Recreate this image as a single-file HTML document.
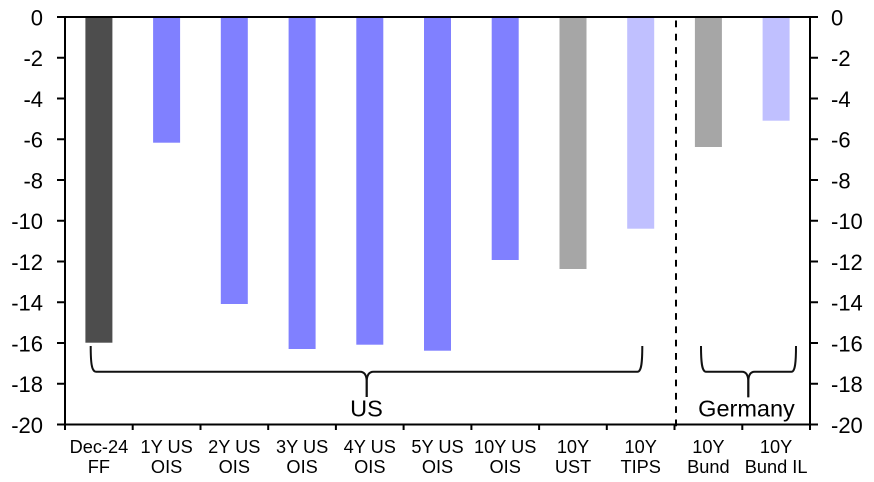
<!DOCTYPE html>
<html><head><meta charset="utf-8"><style>
html,body{margin:0;padding:0;background:#fff;}
svg{display:block;}
text{font-family:"Liberation Sans",Arial,sans-serif;fill:#000;}
</style></head><body>
<svg width="874" height="482" viewBox="0 0 874 482" xmlns="http://www.w3.org/2000/svg">
<!-- bars -->
<rect x="85.4" y="17" width="27" height="325.7" fill="#4d4d4d"/>
<rect x="153.1" y="17" width="27" height="125.7" fill="#8080ff"/>
<rect x="220.8" y="17" width="27" height="287" fill="#8080ff"/>
<rect x="288.6" y="17" width="27" height="332" fill="#8080ff"/>
<rect x="356.3" y="17" width="27" height="327.7" fill="#8080ff"/>
<rect x="424.0" y="17" width="27" height="333.7" fill="#8080ff"/>
<rect x="491.7" y="17" width="27" height="243" fill="#8080ff"/>
<rect x="559.5" y="17" width="27" height="252" fill="#a6a6a6"/>
<rect x="627.2" y="17" width="27" height="211.7" fill="#c0c0ff"/>
<rect x="694.9" y="17" width="27" height="130" fill="#a6a6a6"/>
<rect x="762.6" y="17" width="27" height="103.7" fill="#c0c0ff"/>

<!-- dashed separator -->
<line x1="676" y1="20.5" x2="676" y2="430" stroke="#000" stroke-width="2" stroke-dasharray="6.7,6.6"/>

<!-- axes -->
<g stroke="#000" stroke-width="2" fill="none">
<line x1="57" y1="17" x2="818" y2="17"/>
<line x1="57" y1="424.5" x2="818" y2="424.5"/>
<line x1="65" y1="16" x2="65" y2="425.5"/>
<line x1="810" y1="16" x2="810" y2="425.5"/>
<!-- left ticks -->
<line x1="57" y1="57.75" x2="65" y2="57.75"/>
<line x1="57" y1="98.5" x2="65" y2="98.5"/>
<line x1="57" y1="139.25" x2="65" y2="139.25"/>
<line x1="57" y1="180" x2="65" y2="180"/>
<line x1="57" y1="220.75" x2="65" y2="220.75"/>
<line x1="57" y1="261.5" x2="65" y2="261.5"/>
<line x1="57" y1="302.25" x2="65" y2="302.25"/>
<line x1="57" y1="343" x2="65" y2="343"/>
<line x1="57" y1="383.75" x2="65" y2="383.75"/>
<!-- right ticks -->
<line x1="810" y1="57.75" x2="818" y2="57.75"/>
<line x1="810" y1="98.5" x2="818" y2="98.5"/>
<line x1="810" y1="139.25" x2="818" y2="139.25"/>
<line x1="810" y1="180" x2="818" y2="180"/>
<line x1="810" y1="220.75" x2="818" y2="220.75"/>
<line x1="810" y1="261.5" x2="818" y2="261.5"/>
<line x1="810" y1="302.25" x2="818" y2="302.25"/>
<line x1="810" y1="343" x2="818" y2="343"/>
<line x1="810" y1="383.75" x2="818" y2="383.75"/>
<!-- category ticks -->
<line x1="65" y1="424.5" x2="65" y2="430"/>
<line x1="132.7" y1="424.5" x2="132.7" y2="430"/>
<line x1="200.5" y1="424.5" x2="200.5" y2="430"/>
<line x1="268.2" y1="424.5" x2="268.2" y2="430"/>
<line x1="335.9" y1="424.5" x2="335.9" y2="430"/>
<line x1="403.6" y1="424.5" x2="403.6" y2="430"/>
<line x1="471.4" y1="424.5" x2="471.4" y2="430"/>
<line x1="539.1" y1="424.5" x2="539.1" y2="430"/>
<line x1="606.8" y1="424.5" x2="606.8" y2="430"/>
<line x1="674.5" y1="424.5" x2="674.5" y2="430"/>
<line x1="742.3" y1="424.5" x2="742.3" y2="430"/>
<line x1="810" y1="424.5" x2="810" y2="430"/>
</g>

<!-- braces -->
<g stroke="#111" stroke-width="2" fill="none" stroke-linejoin="round">
<path d="M90.7 346 C90.7 362 91.5 371.7 96 371.7 L360 371.7 C364.5 371.7 366.7 375 366.7 382 L366.7 397"/>
<path d="M366.7 397 L366.7 382 C366.7 375 369 371.7 373.5 371.7 L637.5 371.7 C641.5 371.7 642.3 362 642.3 346"/>
<path d="M701 346 C701 362 701.8 371.7 706 371.7 L742 371.7 C746.3 371.7 748.3 375 748.3 382 L748.3 397.3"/>
<path d="M748.3 397.3 L748.3 382 C748.3 375 750.3 371.7 754.6 371.7 L791.5 371.7 C795.2 371.7 796 362 796 346"/>
</g>
<text x="366.5" y="416.7" font-size="23.5" text-anchor="middle">US</text>
<text x="746.5" y="416.7" font-size="23.5" text-anchor="middle">Germany</text>

<!-- left y labels -->
<g font-size="22" text-anchor="end">
<text x="43" y="25.3">0</text>
<text x="43" y="66">-2</text>
<text x="43" y="106.8">-4</text>
<text x="43" y="147.5">-6</text>
<text x="43" y="188.3">-8</text>
<text x="43" y="229">-10</text>
<text x="43" y="269.8">-12</text>
<text x="43" y="310.5">-14</text>
<text x="43" y="351.3">-16</text>
<text x="43" y="392">-18</text>
<text x="43" y="432.8">-20</text>
</g>
<!-- right y labels -->
<g font-size="22" text-anchor="start">
<text x="831" y="25.3">0</text>
<text x="831" y="66">-2</text>
<text x="831" y="106.8">-4</text>
<text x="831" y="147.5">-6</text>
<text x="831" y="188.3">-8</text>
<text x="831" y="229">-10</text>
<text x="831" y="269.8">-12</text>
<text x="831" y="310.5">-14</text>
<text x="831" y="351.3">-16</text>
<text x="831" y="392">-18</text>
<text x="831" y="432.8">-20</text>
</g>

<!-- category labels -->
<g font-size="18.2" text-anchor="middle">
<text x="98.9" y="453">Dec-24</text><text x="98.9" y="473">FF</text>
<text x="166.6" y="453">1Y US</text><text x="166.6" y="473">OIS</text>
<text x="234.3" y="453">2Y US</text><text x="234.3" y="473">OIS</text>
<text x="302.1" y="453">3Y US</text><text x="302.1" y="473">OIS</text>
<text x="369.8" y="453">4Y US</text><text x="369.8" y="473">OIS</text>
<text x="437.5" y="453">5Y US</text><text x="437.5" y="473">OIS</text>
<text x="505.2" y="453">10Y US</text><text x="505.2" y="473">OIS</text>
<text x="573" y="453">10Y</text><text x="573" y="473">UST</text>
<text x="640.7" y="453">10Y</text><text x="640.7" y="473">TIPS</text>
<text x="708.4" y="453">10Y</text><text x="708.4" y="473">Bund</text>
<text x="776.1" y="453">10Y</text><text x="776.1" y="473">Bund IL</text>
</g>
</svg>
</body></html>
